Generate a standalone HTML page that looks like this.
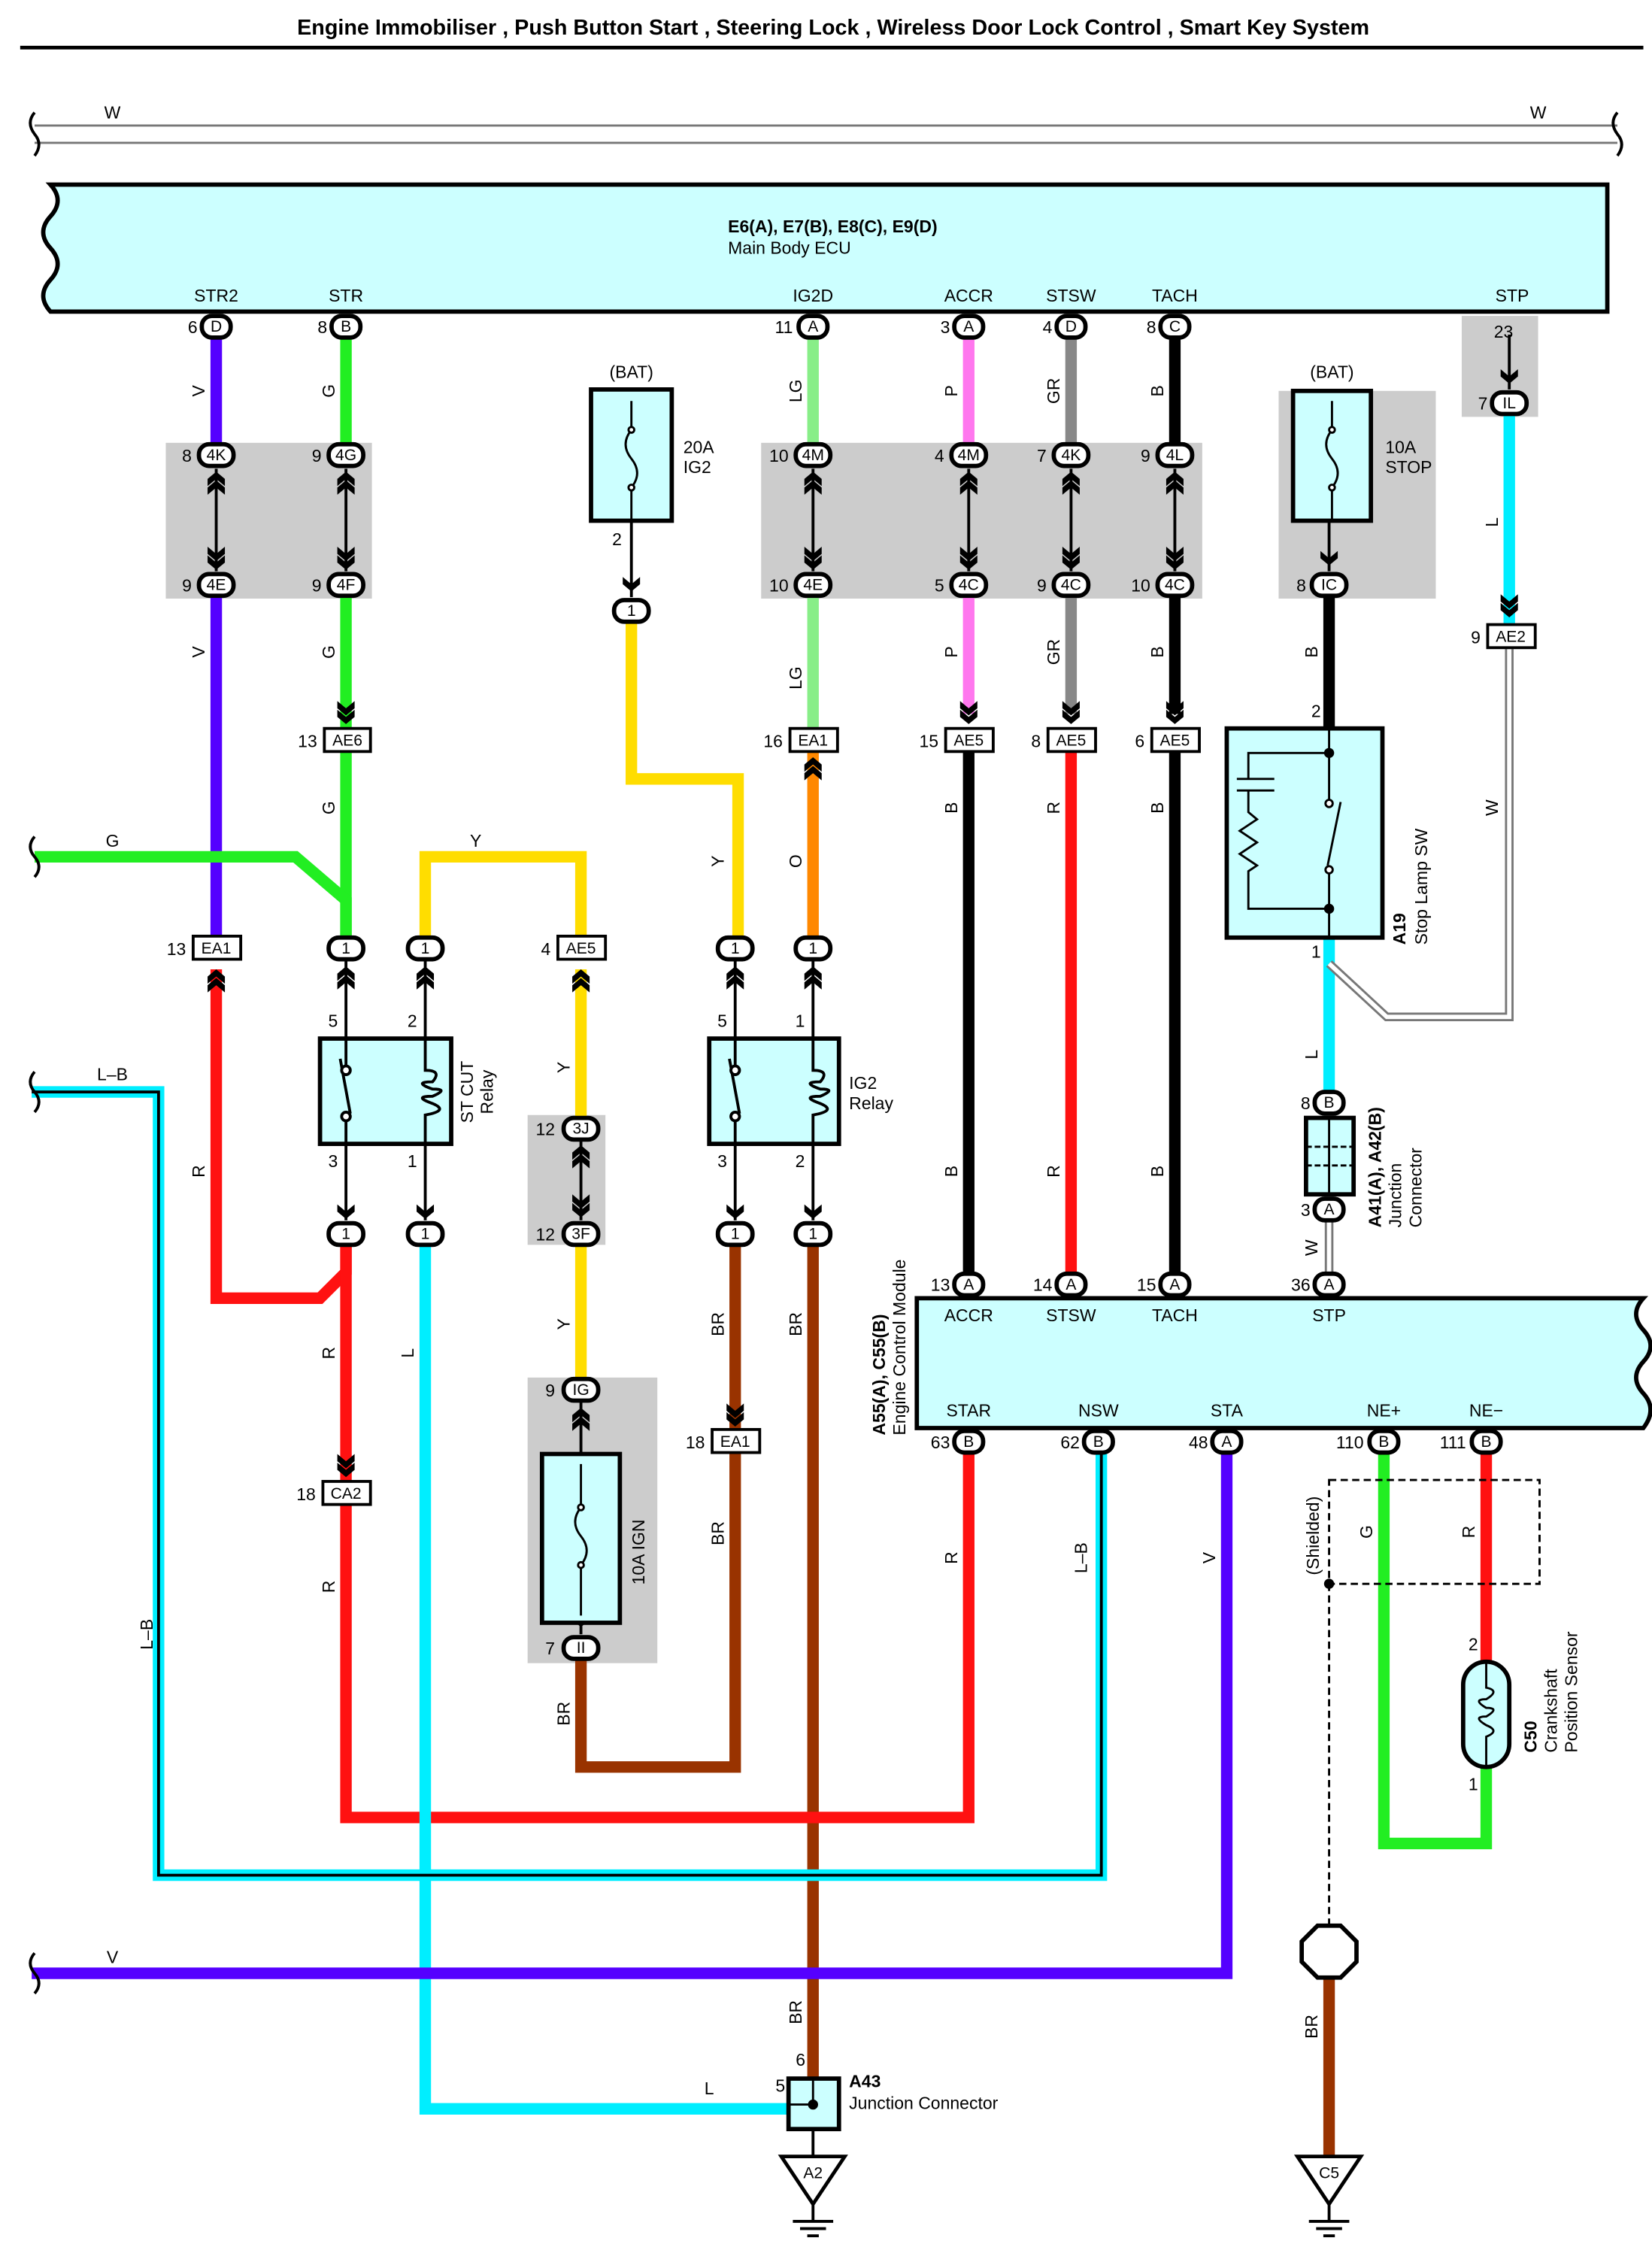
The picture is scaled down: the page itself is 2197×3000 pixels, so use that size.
<!DOCTYPE html>
<html><head><meta charset="utf-8"><style>
html,body{margin:0;padding:0;background:#fff}
svg{display:block}
text{font-family:"Liberation Sans",Arial,sans-serif;fill:#000}
</style></head><body>
<svg width="2197" height="3000" viewBox="0 0 1146 1564" preserveAspectRatio="none" xmlns="http://www.w3.org/2000/svg">
<defs>
<path id="ch" d="M-6,-7 L0,-2 L6,-7 L6,-2 L0,3 L-6,-2Z" fill="#000"/>
<g id="dd"><use href="#ch" y="-3"/><use href="#ch" y="3"/></g>
<g id="du"><use href="#ch" transform="rotate(180) translate(0,-3)"/><use href="#ch" transform="rotate(180) translate(0,3)"/></g>
<g id="sd"><use href="#ch" y="1"/></g>
</defs>
<rect width="1146" height="1564" fill="#fff"/>
<text x="578" y="24" font-size="15" font-weight="bold" text-anchor="middle">Engine Immobiliser , Push Button Start , Steering Lock , Wireless Door Lock Control , Smart Key System</text>
<line x1="14" y1="33" x2="1140" y2="33" stroke="#000" stroke-width="2.5"/>

<!-- W bus -->
<line x1="24" y1="87" x2="1122" y2="87" stroke="#777" stroke-width="1.5"/>
<line x1="24" y1="99" x2="1122" y2="99" stroke="#777" stroke-width="1.5"/>
<path d="M24,78 q-6,7 0,15 q6,7 0,15" fill="none" stroke="#000" stroke-width="2"/>
<path d="M1122,78 q-6,7 0,15 q6,7 0,15" fill="none" stroke="#000" stroke-width="2"/>
<text x="78" y="82" font-size="12" text-anchor="middle">W</text>
<text x="1067" y="82" font-size="12" text-anchor="middle">W</text>

<!-- Main Body ECU -->
<path d="M35,128 L1115,128 L1115,216 L35,216 q-10,-11 0,-22 q10,-11 0,-22 q-10,-11 0,-22 q10,-11 0,-22Z" fill="#ccffff" stroke="#000" stroke-width="3"/>
<text x="505" y="161" font-size="12" font-weight="bold">E6(A), E7(B), E8(C), E9(D)</text>
<text x="505" y="176" font-size="12">Main Body ECU</text>
<g font-size="12" text-anchor="middle">
<text x="150" y="209">STR2</text><text x="240" y="209">STR</text><text x="564" y="209">IG2D</text>
<text x="672" y="209">ACCR</text><text x="743" y="209">STSW</text><text x="815" y="209">TACH</text><text x="1049" y="209">STP</text>
</g>

<!-- gray boxes -->
<g fill="#cccccc">
<rect x="115" y="307" width="143" height="108"/>
<rect x="528" y="307" width="306" height="108"/>
<rect x="887" y="271" width="109" height="144"/>
<rect x="1014" y="219" width="53" height="70"/>
<rect x="366" y="773" width="54" height="90"/>
<rect x="366" y="955" width="90" height="198"/>
</g>

<!-- wires -->
<g fill="none" stroke-width="8" stroke-linejoin="miter">
<path d="M150,232 V308 M150,412 V650" stroke="#5500ff"/>
<path d="M240,232 V308 M240,412 V505 M240,521 V650" stroke="#22ee22"/>
<path d="M24,594 H205 L240,624 V650" stroke="#22ee22"/>
<path d="M564,232 V308 M564,412 V505" stroke="#88ee88"/>
<path d="M564,521 V650" stroke="#ff8800"/>
<path d="M672,232 V308 M672,412 V495" stroke="#ff77ee"/>
<path d="M672,521 V884" stroke="#000"/>
<path d="M743,232 V308 M743,412 V495" stroke="#888"/>
<path d="M743,521 V884" stroke="#ff1111"/>
<path d="M815,232 V308 M815,412 V495" stroke="#000"/>
<path d="M815,521 V884" stroke="#000"/>
<path d="M438,432 V540 H512 V650" stroke="#ffdd00"/>
<path d="M295,650 V594 H403 V650" stroke="#ffdd00"/>
<path d="M403,672 V775 M403,862 V955" stroke="#ffdd00"/>
<path d="M403,1150 V1225 H510 V1006 M510,992 V862" stroke="#993300"/>
<path d="M564,862 V1440" stroke="#993300"/>
<path d="M150,672 V900 H222 L240,882 V862" stroke="#ff1111"/>
<path d="M240,862 V1027 M240,1043 V1260 H672 V1006" stroke="#ff1111"/>
<path d="M295,862 V1462 H547" stroke="#00eeff"/>
<path d="M22,1368 H851 V1006" stroke="#5500ff"/>
<path d="M922,414 V505" stroke="#000"/>
<path d="M922,650 V757" stroke="#00eeff"/>
<path d="M1047,288 V432" stroke="#00eeff"/>
<path d="M960,1006 V1278 H1031 V1225" stroke="#22ee22"/>
<path d="M1031,1006 V1152" stroke="#ff1111"/>
<path d="M922,1368 V1495" stroke="#993300"/>
</g>
<!-- L-B -->
<path d="M22,757 H110 V1300 H764 V1006" fill="none" stroke="#00eeff" stroke-width="8"/>
<path d="M22,757 H110 V1300 H764 V1006" fill="none" stroke="#000" stroke-width="2"/>
<!-- W thin double -->
<path d="M1047,450 V705 H962 L922,668" fill="none" stroke="#777" stroke-width="6"/>
<path d="M1047,450 V705 H962 L922,668" fill="none" stroke="#fff" stroke-width="3"/>
<path d="M922,845 V884" fill="none" stroke="#777" stroke-width="6"/>
<path d="M922,845 V884" fill="none" stroke="#fff" stroke-width="3"/>
<path d="M22,594 m0,0" />
<!-- wavy left ends -->
<g fill="none" stroke="#000" stroke-width="2">
<path d="M24,580 q-6,7 0,14 q6,7 0,14"/>
<path d="M24,743 q-6,7 0,14 q6,7 0,14"/>
<path d="M24,1354 q-6,7 0,14 q6,7 0,14"/>
</g>

<!-- in-gray-box arrows -->
<g stroke="#000" stroke-width="2">
<line x1="150" y1="325" x2="150" y2="396"/><line x1="240" y1="325" x2="240" y2="396"/>
<line x1="564" y1="325" x2="564" y2="396"/><line x1="672" y1="325" x2="672" y2="396"/>
<line x1="743" y1="325" x2="743" y2="396"/><line x1="815" y1="325" x2="815" y2="396"/>
<line x1="403" y1="790" x2="403" y2="846"/>
<line x1="403" y1="972" x2="403" y2="1008"/><line x1="403" y1="1125" x2="403" y2="1133"/>
<line x1="1047" y1="232" x2="1047" y2="270"/>
<line x1="922" y1="360" x2="922" y2="396"/>
<line x1="438" y1="360" x2="438" y2="414"/>
</g>
<g>
<use href="#du" x="150" y="333"/><use href="#dd" x="150" y="389"/>
<use href="#du" x="240" y="333"/><use href="#dd" x="240" y="389"/>
<use href="#du" x="564" y="333"/><use href="#dd" x="564" y="389"/>
<use href="#du" x="672" y="333"/><use href="#dd" x="672" y="389"/>
<use href="#du" x="743" y="333"/><use href="#dd" x="743" y="389"/>
<use href="#du" x="815" y="333"/><use href="#dd" x="815" y="389"/>
<use href="#du" x="403" y="800"/><use href="#dd" x="403" y="838"/>
<use href="#du" x="403" y="982"/><use href="#sd" x="403" y="1124"/>
<use href="#sd" x="1047" y="262"/><use href="#sd" x="922" y="388"/><use href="#sd" x="438" y="406"/>
<use href="#dd" x="240" y="496"/><use href="#dd" x="672" y="496"/><use href="#dd" x="743" y="496"/><use href="#dd" x="815" y="496"/>
<use href="#du" x="564" y="531"/><use href="#du" x="150" y="678"/><use href="#du" x="403" y="678"/>
<use href="#dd" x="1047" y="422"/><use href="#dd" x="240" y="1018"/><use href="#dd" x="510" y="983"/>
<use href="#du" x="240" y="676"/><use href="#du" x="295" y="676"/><use href="#du" x="510" y="676"/><use href="#du" x="564" y="676"/>
<use href="#sd" x="240" y="841"/><use href="#sd" x="295" y="841"/><use href="#sd" x="510" y="841"/><use href="#sd" x="564" y="841"/>
</g>
<g stroke="#000" stroke-width="2">
<line x1="240" y1="665" x2="240" y2="720"/><line x1="295" y1="665" x2="295" y2="720"/>
<line x1="240" y1="793" x2="240" y2="846"/><line x1="295" y1="793" x2="295" y2="846"/>
<line x1="510" y1="665" x2="510" y2="720"/><line x1="564" y1="665" x2="564" y2="720"/>
<line x1="510" y1="793" x2="510" y2="846"/><line x1="564" y1="793" x2="564" y2="846"/>
</g>

<!-- fuses -->
<g fill="#ccffff" stroke="#000" stroke-width="3">
<rect x="410" y="270" width="56" height="91"/>
<rect x="897" y="271" width="54" height="90"/>
<rect x="376" y="1008" width="54" height="117"/>
</g>
<g fill="none" stroke="#000" stroke-width="1.5">
<path d="M438,278 V298 q-8,10 0,20 q8,10 0,20 V360"/><circle cx="438" cy="298" r="2" fill="#fff"/><circle cx="438" cy="338" r="2" fill="#fff"/>
<path d="M924,278 V298 q-8,10 0,20 q8,10 0,20 V360"/><circle cx="924" cy="298" r="2" fill="#fff"/><circle cx="924" cy="338" r="2" fill="#fff"/>
<path d="M403,1015 V1045 q-8,10 0,20 q8,10 0,20 V1120"/><circle cx="403" cy="1045" r="2" fill="#fff"/><circle cx="403" cy="1085" r="2" fill="#fff"/>
</g>
<text x="438" y="262" font-size="12" text-anchor="middle">(BAT)</text>
<text x="474" y="314" font-size="12">20A</text><text x="474" y="328" font-size="12">IG2</text>
<text x="428" y="378" font-size="12" text-anchor="middle">2</text>
<text x="924" y="262" font-size="12" text-anchor="middle">(BAT)</text>
<text x="961" y="314" font-size="12">10A</text><text x="961" y="328" font-size="12">STOP</text>
<text transform="translate(447,1076) rotate(-90)" font-size="12" text-anchor="middle">10A IGN</text>

<!-- relays -->
<g fill="#ccffff" stroke="#000" stroke-width="3">
<rect x="222" y="720" width="91" height="73"/>
<rect x="492" y="720" width="90" height="73"/>
</g>
<g fill="none" stroke="#000" stroke-width="2">
<path d="M240,720 V740 M240,793 V776 M236,734 L243,772"/>
<circle cx="240" cy="742" r="3" fill="#fff"/><circle cx="240" cy="774" r="3" fill="#fff"/>
<path d="M295,720 V742 q12,0 5,8 q-14,0 0,5 q12,0 0,5 q-14,0 0,5 q12,5 -5,8 V793"/>
<path d="M510,720 V740 M510,793 V776 M506,734 L513,772"/>
<circle cx="510" cy="742" r="3" fill="#fff"/><circle cx="510" cy="774" r="3" fill="#fff"/>
<path d="M564,720 V742 q12,0 5,8 q-14,0 0,5 q12,0 0,5 q-14,0 0,5 q12,5 -5,8 V793"/>
</g>
<g font-size="12" text-anchor="middle">
<text x="231" y="712">5</text><text x="286" y="712">2</text><text x="231" y="809">3</text><text x="286" y="809">1</text>
<text x="501" y="712">5</text><text x="555" y="712">1</text><text x="501" y="809">3</text><text x="555" y="809">2</text>
</g>
<text transform="translate(328,757) rotate(-90)" font-size="12" text-anchor="middle">ST CUT</text>
<text transform="translate(342,757) rotate(-90)" font-size="12" text-anchor="middle">Relay</text>
<text x="589" y="755" font-size="12">IG2</text><text x="589" y="769" font-size="12">Relay</text>

<!-- Stop lamp SW -->
<rect x="851" y="505" width="108" height="145" fill="#ccffff" stroke="#000" stroke-width="3"/>
<g fill="none" stroke="#000" stroke-width="1.5">
<path d="M922,505 V560 M922,650 V604 M930,556 L921,600"/>
<path d="M922,522 H866 V540 M858,540 H884 M858,548 H884 M866,548 V563 l6,5 l-12,8 l12,8 l-12,8 l12,8 l-6,4 V630 H922"/>
</g>
<circle cx="922" cy="522" r="3.5"/><circle cx="922" cy="630" r="3.5"/>
<circle cx="922" cy="557" r="2.5" fill="#fff" stroke="#000" stroke-width="1.5"/><circle cx="922" cy="603" r="2.5" fill="#fff" stroke="#000" stroke-width="1.5"/>
<text x="913" y="497" font-size="12" text-anchor="middle">2</text>
<text x="913" y="664" font-size="12" text-anchor="middle">1</text>
<text transform="translate(975,655) rotate(-90)" font-size="12" font-weight="bold">A19</text>
<text transform="translate(990,655) rotate(-90)" font-size="12">Stop Lamp SW</text>

<!-- A41 junction -->
<rect x="906" y="775" width="33" height="53" fill="#ccffff" stroke="#000" stroke-width="3"/>
<g stroke="#000" stroke-width="1.5" fill="none"><line x1="922" y1="775" x2="922" y2="828"/><line x1="906" y1="795" x2="939" y2="795" stroke-dasharray="4,2"/><line x1="906" y1="808" x2="939" y2="808" stroke-dasharray="4,2"/></g>
<text transform="translate(958,851) rotate(-90)" font-size="12" font-weight="bold">A41(A), A42(B)</text>
<text transform="translate(972,851) rotate(-90)" font-size="12">Junction</text>
<text transform="translate(986,851) rotate(-90)" font-size="12">Connector</text>

<!-- ECM -->
<path d="M636,900 L1140,900 q-10,11 0,22 q10,11 0,22 q-10,11 0,22 q10,11 0,24 L636,990Z" fill="#ccffff" stroke="#000" stroke-width="3"/>
<g font-size="12" text-anchor="middle">
<text x="672" y="916">ACCR</text><text x="743" y="916">STSW</text><text x="815" y="916">TACH</text><text x="922" y="916">STP</text>
<text x="672" y="982">STAR</text><text x="762" y="982">NSW</text><text x="851" y="982">STA</text><text x="960" y="982">NE+</text><text x="1031" y="982">NE−</text>
</g>
<text transform="translate(614,995) rotate(-90)" font-size="12" font-weight="bold">A55(A), C55(B)</text>
<text transform="translate(628,995) rotate(-90)" font-size="12">Engine Control Module</text>

<!-- crank sensor -->
<rect x="922" y="1026" width="146" height="72" fill="none" stroke="#000" stroke-width="1.5" stroke-dasharray="5,3"/>
<line x1="922" y1="1098" x2="922" y2="1335" stroke="#000" stroke-width="1.5" stroke-dasharray="5,3"/>
<circle cx="922" cy="1098" r="3.5"/>
<rect x="1015" y="1152" width="32" height="73" rx="16" fill="#ccffff" stroke="#000" stroke-width="3"/>
<path d="M1031,1152 V1170 q10,2 0,8 q-10,0 0,6 q10,0 0,6 q-10,0 0,6 q10,4 0,8 V1225" fill="none" stroke="#000" stroke-width="1.5"/>
<text x="1022" y="1144" font-size="12" text-anchor="middle">2</text>
<text x="1022" y="1241" font-size="12" text-anchor="middle">1</text>
<text transform="translate(1066,1215) rotate(-90)" font-size="12" font-weight="bold">C50</text>
<text transform="translate(1080,1215) rotate(-90)" font-size="12">Crankshaft</text>
<text transform="translate(1094,1215) rotate(-90)" font-size="12">Position Sensor</text>
<text transform="translate(915,1092) rotate(-90)" font-size="12">(Shielded)</text>
<polygon points="914,1335 930,1335 941,1346 941,1360 930,1371 914,1371 903,1360 903,1346" fill="#fff" stroke="#000" stroke-width="3"/>

<!-- A43 -->
<rect x="547" y="1441" width="35" height="35" fill="#ccffff" stroke="#000" stroke-width="3"/>
<path d="M547,1459 H564 V1441" stroke="#000" stroke-width="1.5" fill="none"/><circle cx="564" cy="1459" r="3.5"/>
<line x1="564" y1="1476" x2="564" y2="1495" stroke="#000" stroke-width="2"/>
<text x="538" y="1450" font-size="12">5</text><text x="552" y="1432" font-size="12">6</text>
<text x="589" y="1447" font-size="12" font-weight="bold">A43</text>
<text x="589" y="1462" font-size="12">Junction Connector</text>
<!-- grounds -->
<g stroke="#000" stroke-width="2.5" fill="#fff">
<polygon points="542,1495 586,1495 564,1528"/><polygon points="900,1495 944,1495 922,1528"/>
</g>
<g stroke="#000" stroke-width="2"><line x1="564" y1="1528" x2="564" y2="1540"/><line x1="550" y1="1540" x2="578" y2="1540"/><line x1="555" y1="1545" x2="573" y2="1545"/><line x1="560" y1="1550" x2="568" y2="1550"/>
<line x1="922" y1="1528" x2="922" y2="1540"/><line x1="908" y1="1540" x2="936" y2="1540"/><line x1="913" y1="1545" x2="931" y2="1545"/><line x1="918" y1="1550" x2="926" y2="1550"/></g>
<text x="564" y="1510" font-size="11" text-anchor="middle">A2</text>
<text x="922" y="1510" font-size="11" text-anchor="middle">C5</text>

<!-- oval pins -->
<g font-size="11" text-anchor="middle" stroke="none">
<g fill="#fff" stroke="#000" stroke-width="3">
<rect x="140" y="219" width="20" height="15" rx="7"/><rect x="230" y="219" width="20" height="15" rx="7"/>
<rect x="554" y="219" width="20" height="15" rx="7"/><rect x="662" y="219" width="20" height="15" rx="7"/>
<rect x="733" y="219" width="20" height="15" rx="7"/><rect x="805" y="219" width="20" height="15" rx="7"/>
<rect x="1035" y="272" width="24" height="15" rx="7"/>
<rect x="138" y="308" width="24" height="15" rx="7"/><rect x="228" y="308" width="24" height="15" rx="7"/>
<rect x="138" y="398" width="24" height="15" rx="7"/><rect x="228" y="398" width="24" height="15" rx="7"/>
<rect x="552" y="308" width="24" height="15" rx="7"/><rect x="660" y="308" width="24" height="15" rx="7"/>
<rect x="731" y="308" width="24" height="15" rx="7"/><rect x="803" y="308" width="24" height="15" rx="7"/>
<rect x="552" y="398" width="24" height="15" rx="7"/><rect x="660" y="398" width="24" height="15" rx="7"/>
<rect x="731" y="398" width="24" height="15" rx="7"/><rect x="803" y="398" width="24" height="15" rx="7"/>
<rect x="910" y="398" width="24" height="15" rx="7"/>
<rect x="426" y="416" width="24" height="15" rx="7"/>
<rect x="228" y="650" width="24" height="15" rx="7"/><rect x="283" y="650" width="24" height="15" rx="7"/>
<rect x="498" y="650" width="24" height="15" rx="7"/><rect x="552" y="650" width="24" height="15" rx="7"/>
<rect x="228" y="848" width="24" height="15" rx="7"/><rect x="283" y="848" width="24" height="15" rx="7"/>
<rect x="498" y="848" width="24" height="15" rx="7"/><rect x="552" y="848" width="24" height="15" rx="7"/>
<rect x="391" y="775" width="24" height="15" rx="7"/><rect x="391" y="848" width="24" height="15" rx="7"/>
<rect x="391" y="956" width="24" height="15" rx="7"/><rect x="391" y="1135" width="24" height="15" rx="7"/>
<rect x="912" y="757" width="20" height="15" rx="7"/><rect x="912" y="831" width="20" height="15" rx="7"/>
<rect x="662" y="883" width="20" height="15" rx="7"/><rect x="733" y="883" width="20" height="15" rx="7"/>
<rect x="805" y="883" width="20" height="15" rx="7"/><rect x="912" y="883" width="20" height="15" rx="7"/>
<rect x="662" y="992" width="20" height="15" rx="7"/><rect x="752" y="992" width="20" height="15" rx="7"/>
<rect x="841" y="992" width="20" height="15" rx="7"/><rect x="950" y="992" width="20" height="15" rx="7"/>
<rect x="1021" y="992" width="20" height="15" rx="7"/>
</g>
<text x="150" y="230">D</text><text x="240" y="230">B</text><text x="564" y="230">A</text><text x="672" y="230">A</text><text x="743" y="230">D</text><text x="815" y="230">C</text>
<text x="1047" y="283">IL</text>
<text x="150" y="319">4K</text><text x="240" y="319">4G</text><text x="150" y="409">4E</text><text x="240" y="409">4F</text>
<text x="564" y="319">4M</text><text x="672" y="319">4M</text><text x="743" y="319">4K</text><text x="815" y="319">4L</text>
<text x="564" y="409">4E</text><text x="672" y="409">4C</text><text x="743" y="409">4C</text><text x="815" y="409">4C</text>
<text x="922" y="409">IC</text><text x="438" y="427">1</text>
<text x="240" y="661">1</text><text x="295" y="661">1</text><text x="510" y="661">1</text><text x="564" y="661">1</text>
<text x="240" y="859">1</text><text x="295" y="859">1</text><text x="510" y="859">1</text><text x="564" y="859">1</text>
<text x="403" y="786">3J</text><text x="403" y="859">3F</text><text x="403" y="967">IG</text><text x="403" y="1146">II</text>
<text x="922" y="768">B</text><text x="922" y="842">A</text>
<text x="672" y="894">A</text><text x="743" y="894">A</text><text x="815" y="894">A</text><text x="922" y="894">A</text>
<text x="672" y="1003">B</text><text x="762" y="1003">B</text><text x="851" y="1003">A</text><text x="960" y="1003">B</text><text x="1031" y="1003">B</text>
</g>

<!-- rect connectors -->
<g fill="#fff" stroke="#000" stroke-width="2">
<rect x="225" y="505" width="32" height="16"/><rect x="548" y="505" width="33" height="16"/>
<rect x="656" y="505" width="33" height="16"/><rect x="727" y="505" width="33" height="16"/><rect x="799" y="505" width="33" height="16"/>
<rect x="1032" y="433" width="33" height="16"/>
<rect x="134" y="649" width="33" height="16"/><rect x="387" y="649" width="33" height="16"/>
<rect x="224" y="1027" width="33" height="16"/><rect x="494" y="991" width="33" height="16"/>
</g>
<g font-size="11" text-anchor="middle">
<text x="241" y="517">AE6</text><text x="564" y="517">EA1</text><text x="672" y="517">AE5</text><text x="743" y="517">AE5</text><text x="815" y="517">AE5</text>
<text x="1048" y="445">AE2</text><text x="150" y="661">EA1</text><text x="403" y="661">AE5</text><text x="240" y="1039">CA2</text><text x="510" y="1003">EA1</text>
</g>

<!-- pin numbers -->
<g font-size="12" text-anchor="end">
<text x="137" y="231">6</text><text x="227" y="231">8</text><text x="550" y="231">11</text><text x="659" y="231">3</text><text x="730" y="231">4</text><text x="802" y="231">8</text>
<text x="1043" y="234" text-anchor="middle">23</text><text x="1032" y="284">7</text>
<text x="133" y="320">8</text><text x="223" y="320">9</text><text x="133" y="410">9</text><text x="223" y="410">9</text>
<text x="547" y="320">10</text><text x="655" y="320">4</text><text x="726" y="320">7</text><text x="798" y="320">9</text>
<text x="547" y="410">10</text><text x="655" y="410">5</text><text x="726" y="410">9</text><text x="798" y="410">10</text>
<text x="906" y="410">8</text>
<text x="220" y="518">13</text><text x="543" y="518">16</text><text x="651" y="518">15</text><text x="722" y="518">8</text><text x="794" y="518">6</text>
<text x="1027" y="446">9</text>
<text x="129" y="662">13</text><text x="382" y="662">4</text>
<text x="385" y="787">12</text><text x="385" y="860">12</text><text x="385" y="968">9</text><text x="385" y="1147">7</text>
<text x="219" y="1040">18</text><text x="489" y="1004">18</text>
<text x="909" y="769">8</text><text x="909" y="843">3</text>
<text x="659" y="895">13</text><text x="730" y="895">14</text><text x="802" y="895">15</text><text x="909" y="895">36</text>
<text x="659" y="1004">63</text><text x="749" y="1004">62</text><text x="838" y="1004">48</text><text x="946" y="1004">110</text><text x="1017" y="1004">111</text>
</g>

<!-- wire color labels (rotated) -->
<g font-size="12" text-anchor="middle">
<text transform="translate(142,271) rotate(-90)">V</text><text transform="translate(232,271) rotate(-90)">G</text>
<text transform="translate(142,452) rotate(-90)">V</text><text transform="translate(232,452) rotate(-90)">G</text>
<text transform="translate(232,560) rotate(-90)">G</text>
<text transform="translate(556,271) rotate(-90)">LG</text><text transform="translate(556,470) rotate(-90)">LG</text>
<text transform="translate(664,271) rotate(-90)">P</text><text transform="translate(664,452) rotate(-90)">P</text>
<text transform="translate(735,271) rotate(-90)">GR</text><text transform="translate(735,452) rotate(-90)">GR</text>
<text transform="translate(807,271) rotate(-90)">B</text><text transform="translate(807,452) rotate(-90)">B</text>
<text transform="translate(664,560) rotate(-90)">B</text><text transform="translate(735,560) rotate(-90)">R</text><text transform="translate(807,560) rotate(-90)">B</text>
<text transform="translate(664,812) rotate(-90)">B</text><text transform="translate(735,812) rotate(-90)">R</text><text transform="translate(807,812) rotate(-90)">B</text>
<text transform="translate(914,452) rotate(-90)">B</text><text transform="translate(1039,362) rotate(-90)">L</text>
<text transform="translate(1039,560) rotate(-90)">W</text><text transform="translate(914,731) rotate(-90)">L</text>
<text transform="translate(914,865) rotate(-90)">W</text>
<text transform="translate(502,597) rotate(-90)">Y</text><text transform="translate(556,597) rotate(-90)">O</text>
<text transform="translate(395,740) rotate(-90)">Y</text><text transform="translate(395,918) rotate(-90)">Y</text>
<text transform="translate(142,812) rotate(-90)">R</text><text transform="translate(232,938) rotate(-90)">R</text>
<text transform="translate(232,1100) rotate(-90)">R</text><text transform="translate(287,938) rotate(-90)">L</text>
<text transform="translate(502,918) rotate(-90)">BR</text><text transform="translate(556,918) rotate(-90)">BR</text>
<text transform="translate(502,1063) rotate(-90)">BR</text><text transform="translate(395,1188) rotate(-90)">BR</text>
<text transform="translate(556,1395) rotate(-90)">BR</text><text transform="translate(914,1405) rotate(-90)">BR</text>
<text transform="translate(664,1080) rotate(-90)">R</text><text transform="translate(754,1080) rotate(-90)">L–B</text>
<text transform="translate(843,1080) rotate(-90)">V</text><text transform="translate(952,1062) rotate(-90)">G</text>
<text transform="translate(1023,1062) rotate(-90)">R</text><text transform="translate(106,1133) rotate(-90)">L–B</text>
</g>
<g font-size="12" text-anchor="middle">
<text x="78" y="587">G</text><text x="330" y="587">Y</text><text x="78" y="749">L–B</text><text x="78" y="1361">V</text><text x="492" y="1452">L</text>
</g>
</svg>
</body></html>
